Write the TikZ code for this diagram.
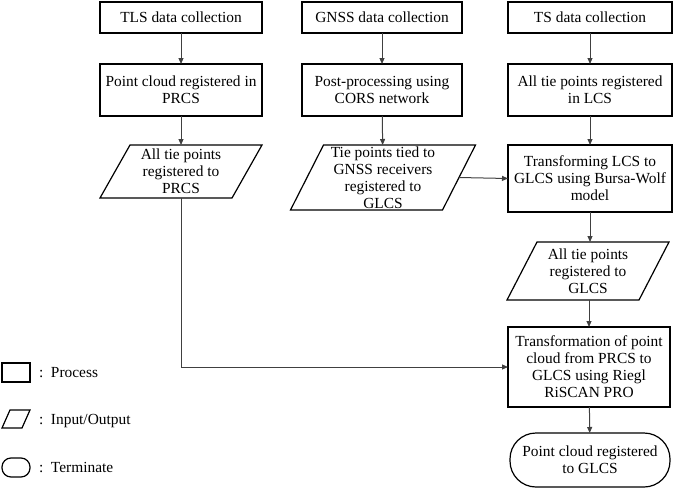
\documentclass[tikz,border=0pt]{standalone}
\usepackage{fontspec}
\setmainfont{Liberation Serif}
\usetikzlibrary{arrows.meta,shapes.misc}
\newcommand\iobox[2]{\draw[boxline] ([xshift=-#2]#1.south west) -- ([xshift=#2]#1.north west) -- ([xshift=#2]#1.north east) -- ([xshift=-#2]#1.south east) -- cycle;}
\begin{document}
\begin{tikzpicture}[x=1pt,y=-1pt,
  every node/.style={font=\fontsize{15.4}{17}\selectfont, inner sep=0pt, outer sep=0pt, align=center},
  proc/.style={draw=black, line width=1.2pt, rectangle, minimum width=#1},
  proc/.default=162pt,
  io/.style={rectangle},
  term/.style={draw=black, line width=1.2pt, rectangle, rounded corners=26pt},
  boxline/.style={draw=black, line width=1.2pt},
  arr/.style={draw=black!75, line width=1pt, -{Triangle[length=6pt,width=5pt]}}
]
\useasboundingbox (0,0) rectangle (675,490);

% column 1
\node[proc, minimum height=31pt] (tls) at (181,17.5) {TLS data collection};
\node[proc, minimum height=52pt] (pc) at (181,90) {Point cloud registered in\\PRCS};
\node[io, minimum width=132pt, minimum height=53pt] (tp1) at (181,171.5) {All tie points\\registered to\\PRCS};
\iobox{tp1}{15pt}

% column 2
\node[proc=160pt, minimum height=31pt] (gnss) at (382,17.5) {GNSS data collection};
\node[proc=160pt, minimum height=52pt] (pp) at (382,90) {Post-processing using\\CORS network};
\node[io, minimum width=152pt, minimum height=65pt] (tp2) at (383,177.5) {Tie points tied to\\GNSS receivers\\registered to\\GLCS};
\iobox{tp2}{16.5pt}

% column 3
\node[proc=164pt, minimum height=31pt] (ts) at (590,17.5) {TS data collection};
\node[proc=164pt, minimum height=52pt] (lcs) at (590,90) {All tie points registered\\in LCS};
\node[proc=164pt, minimum height=67pt] (tf) at (590,178.5) {Transforming LCS to\\GLCS using Bursa-Wolf\\model};
\node[io, minimum width=132pt, minimum height=58pt] (tp3) at (588,271) {All tie points\\registered to\\GLCS};
\iobox{tp3}{15pt}
\node[proc=162pt, minimum height=80pt] (trans) at (589,367) {Transformation of point\\cloud from PRCS to\\GLCS using Riegl\\RiSCAN PRO};
\node[term, minimum width=160pt, minimum height=54pt] (end) at (590,460) {Point cloud registered\\to GLCS};

% connectors
\draw[arr] (tls) -- (pc);
\draw[arr] (pc) -- (tp1);
\draw[arr] (gnss) -- (pp);
\draw[arr] (pp) -- (tp2);
\draw[arr] (ts) -- (lcs);
\draw[arr] (lcs) -- (tf);
\draw[arr] (tp2.east) -- (tf.west);
\draw[arr] (tf.south) -- (tf.south |- tp3.north);
\draw[arr] (trans.north |- tp3.south) -- (trans.north);
\draw[arr] (trans) -- (end);
\draw[arr] (tp1.south) |- (trans.west);

% legend
\node[draw=black, line width=1.2pt, minimum width=28pt, minimum height=19pt] (lp) at (16,372.5) {};
\node[anchor=west] (lpt) at (39,373) {:\ \ Process};
\node[minimum width=20pt, minimum height=18pt] (li) at (16,419) {};
\iobox{li}{4pt}
\node[anchor=west] (lit) at (39,421) {:\ \ Input/Output};
\node[draw=black, line width=1.2pt, rounded corners=9pt, minimum width=28pt, minimum height=19pt] (lt) at (16,467.5) {};
\node[anchor=west] (ltt) at (39,468) {:\ \ Terminate};
\end{tikzpicture}
\end{document}
